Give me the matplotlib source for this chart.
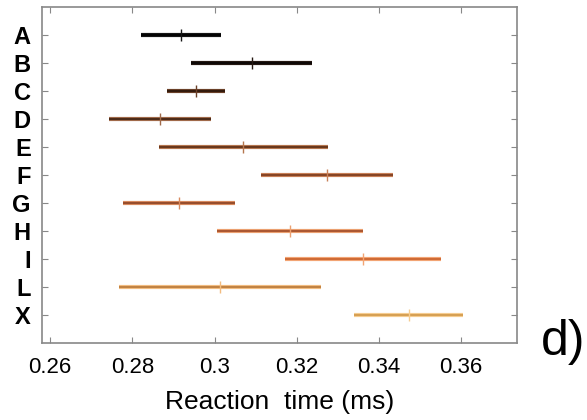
import matplotlib
matplotlib.use("Agg")
import matplotlib.pyplot as plt

categories = ["A", "B", "C", "D", "E", "F", "G", "H", "I", "L", "X"]
low = [0.2821, 0.2943, 0.2885, 0.2742, 0.2864, 0.3112, 0.2777, 0.3006, 0.3172, 0.2768, 0.3340]
high = [0.3016, 0.3238, 0.3026, 0.2992, 0.3276, 0.3434, 0.3049, 0.3362, 0.3552, 0.3258, 0.3604]
center = [0.2919, 0.3091, 0.2955, 0.2867, 0.3069, 0.3273, 0.2913, 0.3184, 0.3361, 0.3013, 0.3473]
xticks = [0.26, 0.28, 0.30, 0.32, 0.34, 0.36]
xticklabels = ["0.26", "0.28", "0.3", "0.32", "0.34", "0.36"]

inner_colors = ["#000000", "#0a0505", "#2a1408", "#3d1f10", "#5a2c14", "#7a3a1c",
                "#8c4222", "#a04a26", "#c8602a", "#b87838", "#d09848"]
outer_colors = ["#151515", "#251812", "#6a4028", "#a06a4a", "#b5764f", "#c88058",
                "#d88a5e", "#eba070", "#f2a474", "#f2bc80", "#f5cc90"]

fig = plt.figure(figsize=(5.87, 4.2), dpi=100)
ax = fig.add_axes([42 / 587, 1 - 343 / 420, (516.7 - 42) / 587, (343 - 7) / 420])

ypos = list(range(1, len(categories) + 1))
for y, lo, hi, c, ic, oc in zip(ypos, low, high, center, inner_colors, outer_colors):
    ax.hlines(y, lo, hi, color=oc, linewidth=3.0, zorder=2)
    ax.hlines(y, lo, hi, color=ic, linewidth=1.2, zorder=3)
    ax.plot([c], [y], marker="|", markersize=8, markeredgewidth=1.0, color=oc, zorder=4)

ax.set_xlim(0.2580, 0.3735)
ax.set_ylim(12, 0)
ax.set_yticks(ypos)
ax.set_yticklabels(categories, fontsize=17, fontweight="bold", family="Liberation Sans")
ax.set_xticks(xticks)
ax.set_xticklabels(xticklabels, fontsize=16, family="Liberation Sans")
ax.set_xlabel("Reaction  time (ms)", fontsize=19, family="Liberation Sans", labelpad=9)

for s in ax.spines.values():
    s.set_color("#888888")
    s.set_linewidth(1.2)
ax.tick_params(axis="both", direction="in", length=4, width=0.8, color="#888888",
               top=True, right=True)
ax.tick_params(axis="x", pad=10)
ax.tick_params(axis="y", pad=8)

fig.text(541 / 587, 1 - 355 / 420, "d)", fontsize=36, family="Liberation Sans", va="baseline")

fig.savefig("out.png", dpi=100)
